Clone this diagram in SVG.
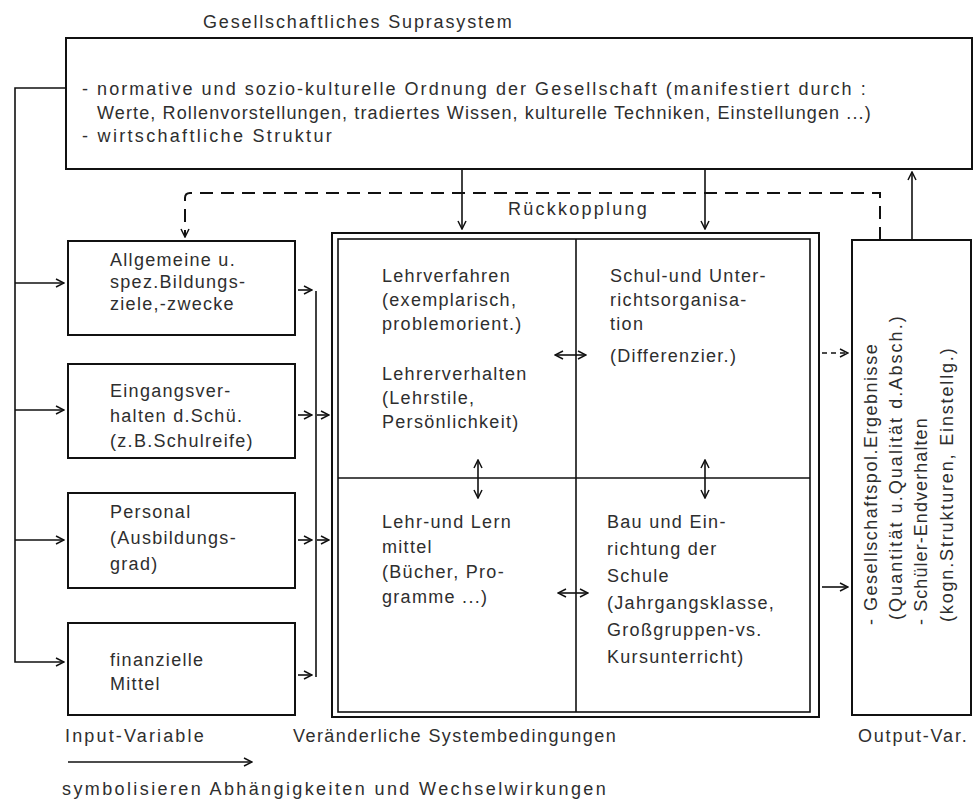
<svg xmlns="http://www.w3.org/2000/svg" width="977" height="806" viewBox="0 0 977 806">
<style>
text{font-family:"Liberation Sans",Arial,sans-serif;font-size:18px;fill:#2e2e2e;letter-spacing:1.3px}
.box{fill:none;stroke:#111;stroke-width:2}
.ln{fill:none;stroke:#111;stroke-width:1.6}
.dash{fill:none;stroke:#111;stroke-width:2;stroke-dasharray:13 8}
</style>
<defs>
<marker id="ah" viewBox="0 0 10 10" refX="9" refY="5" markerWidth="10" markerHeight="10" markerUnits="userSpaceOnUse" orient="auto-start-reverse">
<path d="M1,1 L9,5 L1,9" fill="none" stroke="#111" stroke-width="1.5"/>
</marker>
</defs>
<rect width="977" height="806" fill="#fff"/>

<text x="203" y="28" textLength="310" lengthAdjust="spacing">Gesellschaftliches Suprasystem</text>

<g id="suprasystem">
<rect class="box" x="66" y="38" width="906" height="131"/>
<text x="82" y="95" textLength="785" lengthAdjust="spacing">- normative und sozio-kulturelle Ordnung der Gesellschaft (manifestiert durch :</text>
<text x="97" y="119" textLength="775" lengthAdjust="spacing">Werte, Rollenvorstellungen, tradiertes Wissen, kulturelle Techniken, Einstellungen ...)</text>
<text x="82" y="142" textLength="251" lengthAdjust="spacing">- wirtschaftliche Struktur</text>
</g>

<g id="input-ziele">
<rect class="box" x="68" y="241" width="227" height="94"/>
<text x="110" y="266">Allgemeine u.</text>
<text x="110" y="288">spez.Bildungs-</text>
<text x="110" y="310">ziele,-zwecke</text>
</g>
<g id="input-eingangsverhalten">
<rect class="box" x="68" y="364" width="227" height="94"/>
<text x="110" y="397">Eingangsver-</text>
<text x="110" y="422">halten d.Schü.</text>
<text x="110" y="447">(z.B.Schulreife)</text>
</g>
<g id="input-personal">
<rect class="box" x="68" y="493" width="227" height="95"/>
<text x="110" y="518">Personal</text>
<text x="110" y="544">(Ausbildungs-</text>
<text x="110" y="570">grad)</text>
</g>
<g id="input-finanzen">
<rect class="box" x="68" y="623" width="227" height="92"/>
<text x="110" y="666">finanzielle</text>
<text x="110" y="690">Mittel</text>
</g>

<g id="systembedingungen">
<rect class="box" x="332" y="233" width="487" height="484"/>
<rect class="ln" x="338" y="239" width="472" height="473"/>
<line class="ln" x1="576" y1="239" x2="576" y2="712"/>
<line class="ln" x1="338" y1="478" x2="810" y2="478"/>
<g id="lehrverfahren">
<text x="382" y="282">Lehrverfahren</text>
<text x="382" y="306">(exemplarisch,</text>
<text x="382" y="330">problemorient.)</text>
<text x="382" y="380">Lehrerverhalten</text>
<text x="382" y="404">(Lehrstile,</text>
<text x="382" y="428">Persönlichkeit)</text>
</g>
<g id="organisation">
<text x="610" y="282">Schul-und Unter-</text>
<text x="610" y="306">richtsorganisa-</text>
<text x="610" y="330">tion</text>
<text x="610" y="362">(Differenzier.)</text>
</g>
<g id="lehrmittel">
<text x="382" y="528">Lehr-und Lern</text>
<text x="382" y="553">mittel</text>
<text x="382" y="578">(Bücher, Pro-</text>
<text x="382" y="603">gramme ...)</text>
</g>
<g id="bau">
<text x="607" y="528">Bau und Ein-</text>
<text x="607" y="555">richtung der</text>
<text x="607" y="582">Schule</text>
<text x="607" y="609">(Jahrgangsklasse,</text>
<text x="607" y="636">Großgruppen-vs.</text>
<text x="607" y="663">Kursunterricht)</text>
</g>
</g>

<g id="output">
<rect class="box" x="852" y="240" width="119" height="475"/>
<text transform="translate(877,625) rotate(-90)" textLength="282" lengthAdjust="spacing">- Gesellschaftspol.Ergebnisse</text>
<text transform="translate(902,620) rotate(-90)" textLength="305" lengthAdjust="spacing">(Quantität u.Qualität d.Absch.)</text>
<text transform="translate(927,625) rotate(-90)" textLength="208" lengthAdjust="spacing">- Schüler-Endverhalten</text>
<text transform="translate(953,622) rotate(-90)" textLength="275" lengthAdjust="spacing">(kogn.Strukturen, Einstellg.)</text>
</g>

<g id="connectors">
<path class="ln" d="M66,88 H15 V662 H64" marker-end="url(#ah)"/>
<path class="ln" d="M15,283 H64" marker-end="url(#ah)"/>
<path class="ln" d="M15,410 H64" marker-end="url(#ah)"/>
<path class="ln" d="M15,540 H64" marker-end="url(#ah)"/>
<path class="ln" d="M298,290 H312" marker-end="url(#ah)"/>
<path class="ln" d="M298,415 H312" marker-end="url(#ah)"/>
<path class="ln" d="M298,540 H312" marker-end="url(#ah)"/>
<path class="ln" d="M298,675 H312" marker-end="url(#ah)"/>
<line class="ln" x1="316" y1="291" x2="316" y2="677"/>
<path class="ln" d="M317,415 H329" marker-end="url(#ah)"/>
<path class="ln" d="M317,540 H329" marker-end="url(#ah)"/>
<path class="ln" d="M462,169 V229" marker-end="url(#ah)"/>
<path class="ln" d="M705,169 V229" marker-end="url(#ah)"/>
<path class="dash" d="M880,240 V193 H190 Q185,193 185,198 V237" marker-end="url(#ah)"/>
<text x="508" y="215" textLength="140" lengthAdjust="spacing">Rückkopplung</text>
<path class="ln" d="M912,240 V172" marker-end="url(#ah)"/>
<path class="ln" d="M822,353 H848" stroke-dasharray="5 4" marker-end="url(#ah)"/>
<path class="ln" d="M822,587 H848" marker-end="url(#ah)"/>
<path class="ln" d="M555,355 H586" marker-start="url(#ah)" marker-end="url(#ah)"/>
<path class="ln" d="M558,593 H588" marker-start="url(#ah)" marker-end="url(#ah)"/>
<path class="ln" d="M478,460 V498" marker-start="url(#ah)" marker-end="url(#ah)"/>
<path class="ln" d="M705,460 V498" marker-start="url(#ah)" marker-end="url(#ah)"/>
</g>

<text x="65" y="742" textLength="140" lengthAdjust="spacing">Input-Variable</text>
<text x="293" y="742" textLength="324" lengthAdjust="spacing">Veränderliche Systembedingungen</text>
<text x="858" y="742" textLength="110" lengthAdjust="spacing">Output-Var.</text>

<g id="legend">
<path class="ln" d="M68,762 H252" marker-end="url(#ah)"/>
<text x="62" y="795" textLength="545" lengthAdjust="spacing">symbolisieren Abhängigkeiten und Wechselwirkungen</text>
</g>
</svg>
